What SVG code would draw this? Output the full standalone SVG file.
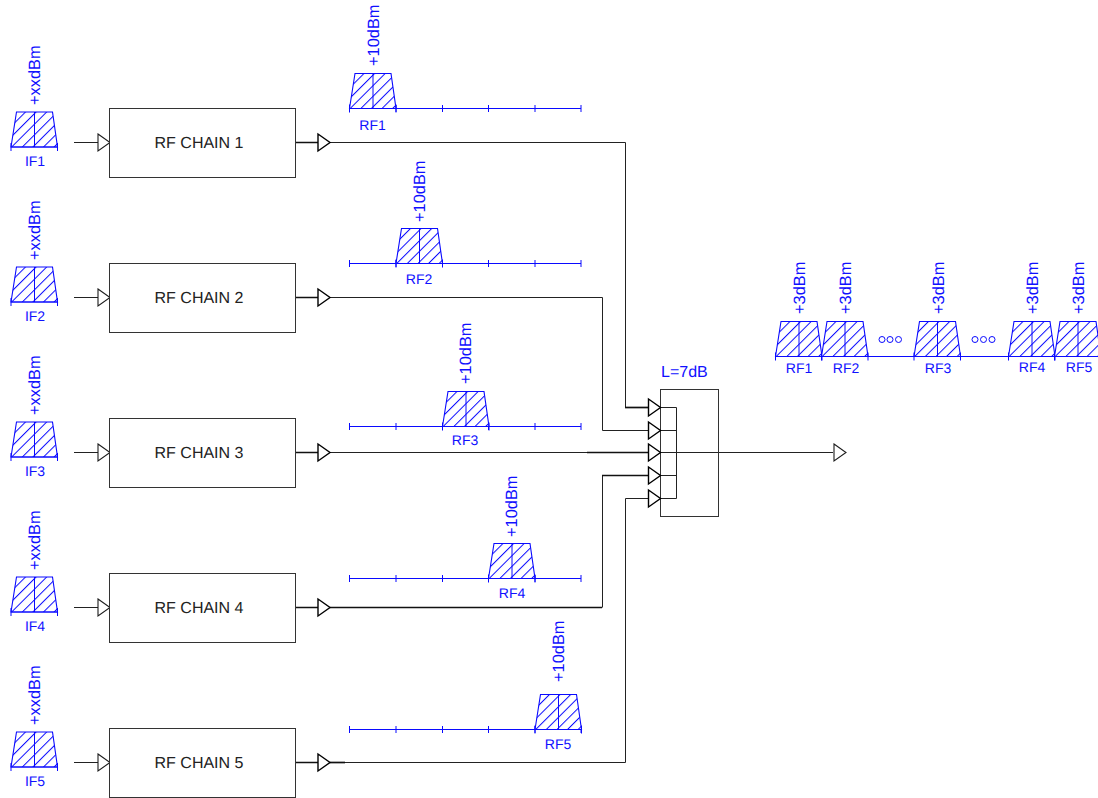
<svg xmlns="http://www.w3.org/2000/svg" width="1098" height="798" viewBox="0 0 1098 798">
<style>
text{font-family:"Liberation Sans",Arial,sans-serif;fill:#1010ff;text-rendering:geometricPrecision}
.t{font-size:16.4px}.l{font-size:14px;text-anchor:middle}.c{font-size:16px;text-anchor:middle;fill:#222}
.box{fill:#fff;stroke:#333;stroke-width:1}
.w{fill:none;stroke:#222;stroke-width:1}
.k{fill:none;stroke:#111;stroke-width:1.7}
.tri{fill:#fff;stroke:#000;stroke-width:1.4}
.in{fill:#fff;stroke:#1c1c1c;stroke-width:1.1}
.b{fill:none;stroke:#0a0aff;stroke-width:1}
.s{fill:url(#h);stroke:#0a0aff;stroke-width:1.1}
.o{fill:none;stroke:#0a0aff;stroke-width:1}
</style>
<defs>
<pattern id="h" width="7.500" height="7.500" patternUnits="userSpaceOnUse" patternTransform="rotate(45)">
<rect width="7.500" height="7.500" fill="#fff"/><path d="M0.500 0V7.500" stroke="#0a0aff" stroke-width="1"/>
</pattern>
<g id="sp"><path class="s" d="M0 0L5.500-35H41.500L46.500 0Z"/><path class="b" d="M23.500 0V-35M0 0H46.500M0-4V4M46.500-4V4"/></g>
<path id="tr" class="tri" d="M0-8.500L12 0L0 8.500Z"/>
<path id="ti" class="in" d="M0-8.500L12 0L0 8.500Z"/>
</defs>

<g id="connectors">
<path class="w" d="M74 142.500H98M74 297.500H98M74 452.500H98M74 607.500H98M74 762.500H98"/>
<path class="k" d="M295 142.500H318M295 297.500H318M295 452.500H318M295 607.500H318M295 762.500H318"/>
<path class="w" d="M330 142.500H625.500V407.500"/>
<path class="k" d="M625 407.500H649"/>
<path class="w" d="M649 407.500H676.500"/>
<path class="w" d="M330 297.500H602.500V430.500H676.500"/>
<path class="w" d="M330 452.500H587"/>
<path class="k" d="M587 452.500H649"/>
<path class="w" d="M649 452.500H833"/>
<path class="k" d="M330 607.500H602"/>
<path class="w" d="M602.500 607.500V475.500"/>
<path class="k" d="M602 475.500H649"/>
<path class="w" d="M649 475.500H676.500"/>
<path class="k" d="M330 762.500H345"/>
<path class="w" d="M345 762.500H625.500V498.500H676.500"/>
<path class="w" d="M676.500 407.500V498.500"/>
</g>

<g id="combiner">
<rect x="660.500" y="389.500" width="58" height="127" fill="none" stroke="#333"/>
<text class="t" x="661" y="377" style="font-size:16px">L=7dB</text>
<use href="#tr" x="648.500" y="407.500"/><use href="#tr" x="648.500" y="430.500"/><use href="#tr" x="648.500" y="452.500"/><use href="#tr" x="648.500" y="475.500"/><use href="#tr" x="648.500" y="498.500"/>
</g>
<g id="output-arrow"><use href="#ti" x="834" y="452.500"/></g>

<g id="chain1"><use href="#ti" x="98" y="142.500"/><rect class="box" x="109.500" y="108.500" width="186" height="69"/><text class="c" x="199" y="148">RF CHAIN 1</text><use href="#tr" x="318" y="142.500"/></g>
<g id="chain2"><use href="#ti" x="98" y="297.500"/><rect class="box" x="109.500" y="263.500" width="186" height="69"/><text class="c" x="199" y="303">RF CHAIN 2</text><use href="#tr" x="318" y="297.500"/></g>
<g id="chain3"><use href="#ti" x="98" y="452.500"/><rect class="box" x="109.500" y="418.500" width="186" height="69"/><text class="c" x="199" y="458">RF CHAIN 3</text><use href="#tr" x="318" y="452.500"/></g>
<g id="chain4"><use href="#ti" x="98" y="607.500"/><rect class="box" x="109.500" y="573.500" width="186" height="69"/><text class="c" x="199" y="613">RF CHAIN 4</text><use href="#tr" x="318" y="607.500"/></g>
<g id="chain5"><use href="#ti" x="98" y="762.500"/><rect class="box" x="109.500" y="728.500" width="186" height="69"/><text class="c" x="199" y="768">RF CHAIN 5</text><use href="#tr" x="318" y="762.500"/></g>

<g id="if1"><use href="#sp" x="11" y="147"/><text class="l" x="35" y="166">IF1</text><text class="t" transform="translate(40 105) rotate(-90)">+xxdBm</text></g>
<g id="if2"><use href="#sp" x="11" y="302"/><text class="l" x="35" y="321">IF2</text><text class="t" transform="translate(40 260) rotate(-90)">+xxdBm</text></g>
<g id="if3"><use href="#sp" x="11" y="457"/><text class="l" x="35" y="476">IF3</text><text class="t" transform="translate(40 415) rotate(-90)">+xxdBm</text></g>
<g id="if4"><use href="#sp" x="11" y="612"/><text class="l" x="35" y="631">IF4</text><text class="t" transform="translate(40 570) rotate(-90)">+xxdBm</text></g>
<g id="if5"><use href="#sp" x="11" y="767"/><text class="l" x="35" y="786">IF5</text><text class="t" transform="translate(40 725) rotate(-90)">+xxdBm</text></g>

<g id="rf1-spectrum"><path class="b" d="M349.500 108.500H581M396 105V112M442.500 105V112M488.500 105V112M535 105V112M581 105V112M349.500 105V112"/><use href="#sp" x="349.500" y="108.500"/><text class="l" x="372.500" y="130">RF1</text><text class="t" transform="translate(379 66) rotate(-90)">+10dBm</text></g>
<g id="rf2-spectrum"><path class="b" d="M349.500 263.500H581M349.500 260V267M396 260V267M442.500 260V267M488.500 260V267M535 260V267M581 260V267"/><use href="#sp" x="396" y="263.500"/><text class="l" x="419" y="284">RF2</text><text class="t" transform="translate(425 222) rotate(-90)">+10dBm</text></g>
<g id="rf3-spectrum"><path class="b" d="M349.500 426.500H581M349.500 423V430M396 423V430M442.500 423V430M488.500 423V430M535 423V430M581 423V430"/><use href="#sp" x="442.500" y="426.500"/><text class="l" x="465" y="445">RF3</text><text class="t" transform="translate(471 384) rotate(-90)">+10dBm</text></g>
<g id="rf4-spectrum"><path class="b" d="M349.500 578.500H581M349.500 575V582M396 575V582M442.500 575V582M488.500 575V582M535 575V582M581 575V582"/><use href="#sp" x="488.500" y="578.500"/><text class="l" x="512" y="598">RF4</text><text class="t" transform="translate(517 537) rotate(-90)">+10dBm</text></g>
<g id="rf5-spectrum"><path class="b" d="M349.500 729.500H581M349.500 726V733M396 726V733M442.500 726V733M488.500 726V733M535 726V733M581 726V733"/><use href="#sp" x="535" y="729.500"/><text class="l" x="558" y="749">RF5</text><text class="t" transform="translate(564 682) rotate(-90)">+10dBm</text></g>

<g id="output-spectrum">
<path class="b" d="M775.500 356.500H1098"/>
<use href="#sp" x="775.500" y="356.500"/><use href="#sp" x="821.500" y="356.500"/><use href="#sp" x="914" y="356.500"/><use href="#sp" x="1008.500" y="356.500"/><use href="#sp" x="1054.500" y="356.500"/>
<circle class="o" cx="882" cy="339.500" r="3"/><circle class="o" cx="890" cy="339.500" r="3"/><circle class="o" cx="898.500" cy="339.500" r="3"/>
<circle class="o" cx="975" cy="339.500" r="3"/><circle class="o" cx="983.500" cy="339.500" r="3"/><circle class="o" cx="992" cy="339.500" r="3"/>
<text class="l" x="799" y="373">RF1</text><text class="l" x="846" y="373">RF2</text><text class="l" x="938" y="373">RF3</text><text class="l" x="1032" y="372">RF4</text><text class="l" x="1079" y="372">RF5</text>
<text class="t" transform="translate(805 314) rotate(-90)">+3dBm</text><text class="t" transform="translate(851 314) rotate(-90)">+3dBm</text><text class="t" transform="translate(944 314) rotate(-90)">+3dBm</text><text class="t" transform="translate(1038 314) rotate(-90)">+3dBm</text><text class="t" transform="translate(1084 314) rotate(-90)">+3dBm</text>
</g>
</svg>
